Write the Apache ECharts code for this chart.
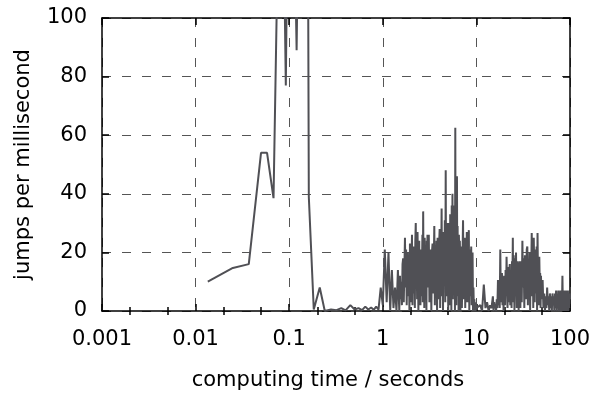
<!DOCTYPE html>
<html><head><meta charset="utf-8">
<script src="https://cdn.jsdelivr.net/npm/echarts@6/dist/echarts.min.js"></script>
<style>html,body{margin:0;padding:0;background:#fff}#c{width:595px;height:403px}</style>
</head><body><div id="c"></div>
<script>
const xTickValues = [0.001, 0.01, 0.1, 1, 10, 100];
const xTickLabels = ['0.001', '0.01', '0.1', '1', '10', '100'];
const xMinorTickValues = [0.002, 0.005, 0.02, 0.05, 0.2, 0.5, 2, 5, 20, 50];
const yTickValues = [0, 20, 40, 60, 80, 100];

const times = [
  0.0135, 0.025, 0.037, 0.050, 0.058, 0.068, 0.077, 0.082, 0.087, 0.092, 0.097, 0.105, 0.112, 0.12, 0.128, 0.158, 0.162, 0.183, 0.212, 0.24,
  0.28, 0.32, 0.36, 0.4, 0.45, 0.5, 0.55, 0.6, 0.65, 0.7, 0.75, 0.8, 0.85, 0.9, 0.95,
  1, 1.05, 1.1, 1.15, 1.2, 1.25, 1.3, 1.35, 1.4, 1.45,
  1.5, 1.525, 1.55, 1.575, 1.6, 1.625, 1.65, 1.675, 1.7, 1.725, 1.75, 1.775, 1.8, 1.825, 1.85, 1.875, 1.9, 1.925, 1.95, 1.975, 2,
  2.025, 2.05, 2.075, 2.1, 2.125, 2.15, 2.175, 2.2, 2.225, 2.25,
  2.275, 2.3, 2.325, 2.35, 2.375, 2.4, 2.425, 2.45, 2.475, 2.5,
  2.525, 2.55, 2.575, 2.6, 2.625, 2.65, 2.675, 2.7, 2.725, 2.75,
  2.775, 2.8, 2.825, 2.85, 2.875, 2.9, 2.925, 2.95, 2.975, 3,
  3.05, 3.1, 3.15, 3.2, 3.25, 3.3, 3.35, 3.4, 3.45, 3.5,
  3.55, 3.6, 3.65, 3.7, 3.75, 3.8, 3.85, 3.9, 3.95, 4,
  4.05, 4.1, 4.15, 4.2, 4.25, 4.3, 4.35, 4.4, 4.45, 4.5,
  4.55, 4.6, 4.65, 4.7, 4.75, 4.8, 4.85, 4.9, 4.95, 5,
  5.05, 5.1, 5.15, 5.2, 5.25, 5.3, 5.35, 5.4, 5.45, 5.5,
  5.55, 5.6, 5.65, 5.7, 5.75, 5.8, 5.85, 5.9, 5.95, 6,
  6.05, 6.1, 6.15, 6.2, 6.25, 6.3, 6.35, 6.4, 6.45, 6.5,
  6.55, 6.6, 6.65, 6.7, 6.75, 6.8, 6.85, 6.9, 6.95, 7,
  7.1, 7.2, 7.3, 7.4, 7.5, 7.6, 7.7, 7.8, 7.9, 8,
  8.1, 8.2, 8.3, 8.4, 8.5, 8.6, 8.7, 8.8, 8.9, 9,
  9.1, 9.2, 9.3, 9.4, 9.5, 9.6, 9.7, 9.8, 9.9, 10,
  10.5, 11, 11.5, 12, 12.5, 13, 13.5, 14, 14.5, 15,
  15.25, 15.5, 15.75, 16, 16.25, 16.5, 16.75, 17, 17.25, 17.5,
  17.75, 18, 18.25, 18.5, 18.75, 19, 19.25, 19.5, 19.75, 20,
  20.25, 20.5, 20.75, 21, 21.25, 21.5, 21.75, 22, 22.25, 22.5,
  22.75, 23, 23.25, 23.5, 23.75, 24, 24.25, 24.5, 24.75, 25,
  25.25, 25.5, 25.75, 26, 26.25, 26.5, 26.75, 27, 27.25, 27.5,
  27.75, 28, 28.25, 28.5, 28.75, 29, 29.25, 29.5, 29.75, 30,
  30.5, 31, 31.5, 32, 32.5, 33, 33.5, 34, 34.5, 35,
  35.5, 36, 36.5, 37, 37.5, 38, 38.5, 39, 39.5, 40,
  40.5, 41, 41.5, 42, 42.5, 43, 43.5, 44, 44.5, 45,
  45.5, 46, 46.5, 47, 47.5, 48, 48.5, 49, 49.5, 50,
  51, 52, 53, 54, 55, 56, 57, 58, 59, 60,
  61, 62, 63, 64, 65, 66, 67, 68, 69, 70,
  71, 72, 73, 74, 75, 76, 77, 78, 79, 80,
  81, 82, 83, 84, 85, 86, 87, 88, 89, 90,
  91, 92, 93, 94, 95, 96, 97, 98, 99, 100
];
const rates = [
  10, 14.7, 16, 54, 54, 38.5, 140, 120, 135, 77, 150, 130, 145, 89, 160, 150, 39, 0.5, 8, 0,
  0.5, 0.3, 1, 0.2, 2, 0.5, 1, 0.3, 1.5, 0.5, 1.2, 0.4, 1.5, 0.5, 8,
  2, 21, 3, 20, 0, 14, 1, 8, 0, 14,
  0, 12, 4, 10, 2, 16, 18, 3, 14, 25, 8, 21, 2, 17, 20, 5, 19, 0, 23, 11, 3,
  14, 26, 2, 19, 22, 6, 20, 1, 24, 30,
  9, 22, 4, 27, 15, 0, 21, 24, 7, 18,
  2, 21, 12, 5, 17, 26, 3, 34, 10, 19,
  1, 25, 13, 4, 22, 18, 0, 24, 9, 26,
  8, 26, 3, 18, 21, 0, 20, 23, 6, 15,
  29, 2, 22, 11, 24, 0, 25, 19, 4, 23,
  28, 1, 20, 14, 35, 5, 26, 0, 27, 22,
  9, 31, 3, 48, 5, 28, 30, 7, 24, 0,
  30, 12, 29, 2, 33, 18, 26, 0, 36, 10,
  40, 4, 33, 36, 14, 30, 20, 0, 62.5, 9,
  28, 2, 35, 46, 5, 29, 10, 24, 0, 26,
  21, 5, 24, 19, 0, 22, 13, 3, 20, 1,
  18, 31, 4, 22, 25, 1, 20, 12, 27, 3,
  24, 15, 27.6, 0, 21, 18, 5, 22, 2, 14,
  20, 0, 8, 1, 4, 0, 2, 0, 3, 1,
  1, 2, 0, 9, 1, 3, 0, 2, 1, 5,
  0, 3, 1, 2, 0, 4, 1, 10.6, 2, 6,
  1, 21, 3, 9, 13, 2, 11, 0, 12, 7,
  2, 14, 5, 18.5, 9, 1, 15, 11, 3, 14,
  16, 2, 12, 8, 1, 17, 10, 25, 3, 19,
  12, 0, 18, 14, 5, 20, 9, 1, 17, 13,
  4, 16, 0, 15, 17, 6, 12, 1, 17, 9,
  3, 24, 8, 18, 1, 19, 12, 4, 21, 22,
  2, 16, 10, 20, 0, 17, 13, 26.6, 5, 21,
  1, 25, 14, 3, 21, 18, 6, 22, 0, 26.6,
  11, 17, 2, 18.5, 9, 13, 1, 12, 4, 8,
  10.6, 1, 6, 0, 5, 1, 8, 2, 5, 0,
  6, 1, 5, 0, 6, 2, 5, 0, 6, 1,
  7, 0, 5, 1, 7, 0, 5, 2, 7, 0,
  6, 1, 12, 0, 6, 2, 7, 0, 5, 1,
  7, 0, 6, 2, 7, 0, 5, 1, 6, 4
];

const FONT = 'DejaVu Sans';
const AX = '#000';
const GRIDC = '#555';

const data = times.map((t, i) => [t, rates[i]]);

function logAxis(pos, opts) {
  return Object.assign({
    type: 'log', logBase: 10, min: 0.001, max: 100, position: pos, gridIndex: 0,
    axisLine: { show: true, onZero: false, lineStyle: { color: AX, width: 1.5 } },
    axisTick: { show: true, inside: true, length: 7, customValues: xTickValues, lineStyle: { color: AX, width: 1.5 } },
    axisLabel: { show: false },
    splitLine: { show: false },
    minorTick: { show: false }, minorSplitLine: { show: false }
  }, opts);
}

const option = {
  animation: false,
  backgroundColor: '#fff',
  grid: { left: 102, right: 25, top: 18, bottom: 92, containLabel: false },
  xAxis: [
    logAxis('bottom', {
      axisLabel: {
        show: true, customValues: xTickValues, margin: 18, fontSize: 21, fontFamily: FONT, color: '#000',
        formatter: v => xTickLabels[Math.round(Math.log10(v)) + 3]
      },
      splitLine: { show: true, lineStyle: { type: [9, 11], color: GRIDC, width: 1 } },
      name: 'computing time / seconds', nameLocation: 'middle', nameGap: 59,
      nameTextStyle: { fontSize: 21, fontFamily: FONT, color: '#000', verticalAlign: 'top', padding: [0, 16, 0, 0] }
    }),
    logAxis('top', {}),
    logAxis('bottom', { axisLine: { show: false }, axisTick: { show: true, inside: true, length: 4, customValues: xMinorTickValues, lineStyle: { color: AX, width: 1.5 } } }),
    logAxis('top', { axisLine: { show: false }, axisTick: { show: true, inside: true, length: 4, customValues: xMinorTickValues, lineStyle: { color: AX, width: 1.5 } } })
  ],
  yAxis: [
    {
      type: 'value', min: 0, max: 100, interval: 20, position: 'left',
      axisLine: { show: true, onZero: false, lineStyle: { color: AX, width: 1.5 } },
      axisTick: { show: true, inside: true, length: 7, customValues: yTickValues, lineStyle: { color: AX, width: 1.5 } },
      axisLabel: { show: true, margin: 15, fontSize: 21, fontFamily: FONT, color: '#000', customValues: yTickValues },
      splitLine: { show: true, lineStyle: { type: [9, 11], color: GRIDC, width: 1 } },
      name: 'jumps per millisecond', nameLocation: 'middle', nameGap: 68, nameRotate: 90,
      nameTextStyle: { fontSize: 21, fontFamily: FONT, color: '#000' }
    },
    {
      type: 'value', min: 0, max: 100, interval: 20, position: 'right',
      axisLine: { show: true, onZero: false, lineStyle: { color: AX, width: 1.5 } },
      axisTick: { show: true, inside: true, length: 7, lineStyle: { color: AX, width: 1.5 } },
      axisLabel: { show: false }, splitLine: { show: false }
    }
  ],
  series: [{
    type: 'line', xAxisIndex: 0, yAxisIndex: 0, data: data,
    showSymbol: false, symbol: 'none', clip: true, z: 1,
    lineStyle: { color: '#505055', width: 2, join: 'bevel' }
  }]
};

const chart = echarts.init(document.getElementById('c'), null, { renderer: 'canvas' });
chart.setOption(option);
</script>
</body></html>
